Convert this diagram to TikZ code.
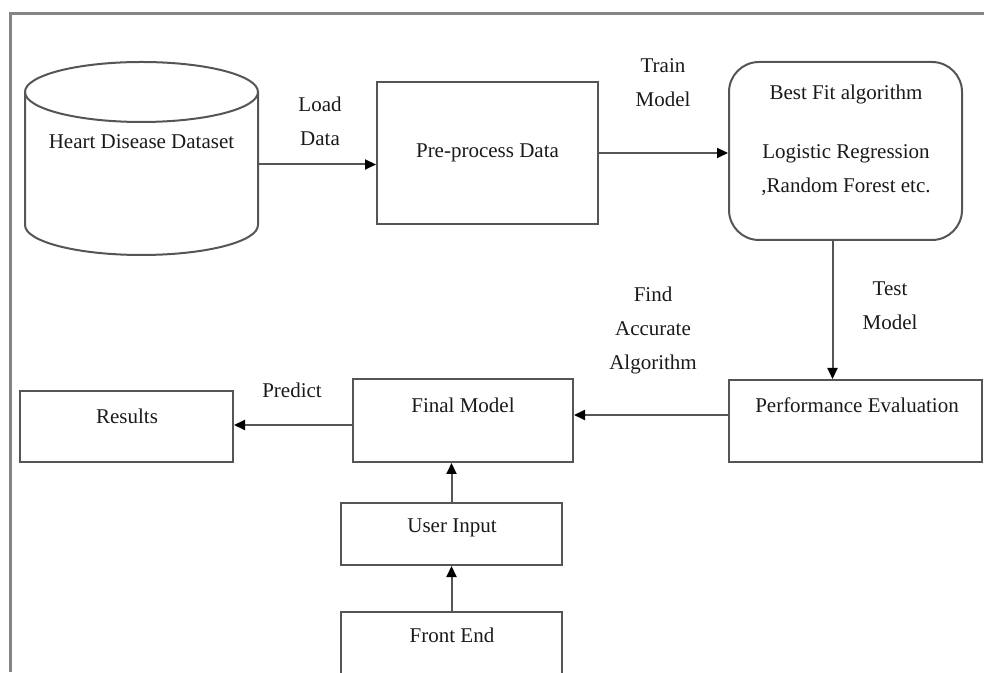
\documentclass[tikz,border=0pt]{standalone}
\usepackage{fontspec}
\setmainfont{Liberation Serif}
\usetikzlibrary{arrows.meta}
\definecolor{linegray}{HTML}{555555}
\definecolor{framegray}{HTML}{858585}
\definecolor{ink}{HTML}{1A1A1A}
\begin{document}
\begin{tikzpicture}[x=1pt,y=1pt,
  box/.style={draw=linegray,line width=2pt,inner sep=0pt,minimum width=#1},
  txt/.style={text=ink,font=\fontsize{21}{34}\selectfont,inner sep=0pt,align=center},
  arr/.style={draw=linegray,line width=2pt,-{Triangle[length=11pt,width=10pt,color=black]}}]
\useasboundingbox (0,0) rectangle (984,672);

% outer frame
\draw[framegray,line width=3pt] (10,0) -- (10,658) -- (984,658);

% dataset cylinder
\draw[linegray,line width=2pt] (141.5,580) ellipse [x radius=116.5,y radius=30];
\draw[linegray,line width=2pt] (25,580) -- (25,447)
  arc[start angle=180,end angle=360,x radius=116.5,y radius=30] -- (258,580);
\node[txt] (dstxt) at (141.5,530) {Heart Disease Dataset};
\coordinate (dsout) at (258,507.5);

% boxes
\node[box=221pt,minimum height=142pt] (pre) at (487.5,519) {};
\node[txt] (pretxt) at (pre) {Pre-process Data};

\node[box=233pt,minimum height=178pt,rounded corners=30pt] (best) at (845.5,521) {};
\node[txt] (besttxt1) at (846,578) {Best Fit algorithm};
\node[txt] (besttxt2) at (846,502) {Logistic Regression\\,Random Forest etc.};

\node[box=253pt,minimum height=82pt] (pe) at (855.5,251) {};
\node[txt] (petxt) at (857,267) {Performance Evaluation};

\node[box=220pt,minimum height=83pt] (fm) at (463,251.5) {};
\node[txt] (fmtxt) at (463,267) {Final Model};

\node[box=213pt,minimum height=71pt] (res) at (126.5,245.5) {};
\node[txt] (restxt) at (127,256) {Results};

\node[box=221pt,minimum height=62pt] (ui) at (451.5,138) {};
\node[txt] (uitxt) at (452,144) {User Input};

\node[box=221pt,minimum height=100pt] (fe) at (451.5,10) {};
\node[txt] (fetxt) at (452,37) {Front End};

% connectors
\draw[arr] (dsout) -- (dsout -| pre.west);
\draw[arr] (pre.east) -- (pre.east -| best.west);
\draw[arr] ([xshift=-13pt]best.south) -- ([xshift=-13pt]best.south |- pe.north);
\draw[arr] ([yshift=6pt]pe.west) -- ([yshift=6pt]pe.west -| fm.east);
\draw[arr] ([yshift=-4.5pt]fm.west) -- ([yshift=-4.5pt]fm.west -| res.east);
\draw[arr] (ui.north) -- (ui.north |- fm.south);
\draw[arr] (fe.north) -- (fe.north |- ui.south);

% connector labels
\node[txt] (lload) at (320,550.5) {Load\\Data};
\node[txt] (ltrain) at (663,589.5) {Train\\Model};
\node[txt] (ltest) at (890,366.5) {Test\\Model};
\node[txt] (lfind) at (653,342) {Find\\Accurate\\Algorithm};
\node[txt] (lpred) at (292,282) {Predict};
\end{tikzpicture}
\end{document}
